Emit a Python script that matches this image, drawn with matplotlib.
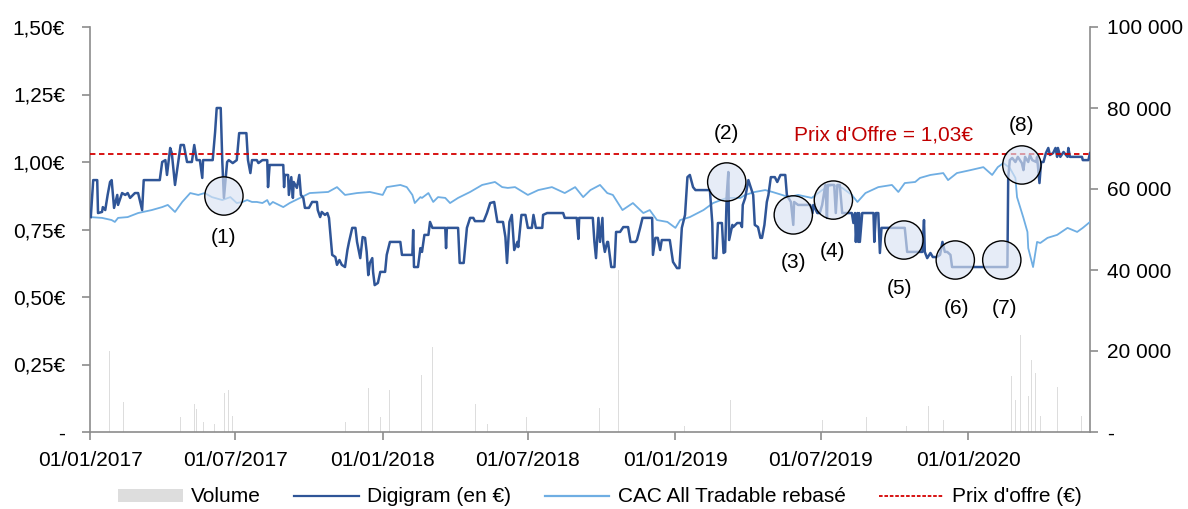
import matplotlib
matplotlib.use("Agg")
import matplotlib.pyplot as plt
import matplotlib.dates as mdates
from matplotlib.patches import Patch
from matplotlib.lines import Line2D
from matplotlib.ticker import FixedLocator
import pandas as pd

plt.rcParams['font.family'] = ['Liberation Sans', 'DejaVu Sans']

START = pd.Timestamp('2017-01-01')
END = pd.Timestamp('2020-06-01')

# Digigram share price (€): days since START, price
digi_days = [1, 4, 9, 10, 15, 16, 19, 22, 25, 27, 30, 34, 35, 40, 44, 47, 50, 56, 60, 65, 67, 87, 90, 94, 96, 100, 102, 106, 110, 113, 117, 121, 127, 130, 133, 137, 140, 141, 153, 156, 158, 163, 165, 167, 171, 173, 178, 183, 186, 195, 197, 200, 202, 208, 210, 215, 221, 222, 224, 241, 242, 243, 247, 248, 251, 253, 254, 258, 261, 263, 266, 268, 273, 277, 283, 284, 287, 289, 293, 296, 298, 302, 306, 308, 311, 314, 318, 321, 323, 327, 331, 333, 337, 340, 343, 345, 347, 349, 352, 353, 355, 359, 362, 368, 370, 374, 387, 389, 402, 403, 404, 409, 412, 414, 417, 422, 424, 427, 443, 444, 445, 459, 461, 466, 470, 474, 478, 480, 491, 495, 499, 504, 508, 515, 518, 520, 523, 526, 529, 533, 534, 538, 543, 546, 551, 553, 556, 564, 565, 570, 590, 592, 607, 609, 610, 627, 629, 631, 634, 636, 639, 640, 642, 645, 646, 650, 654, 656, 661, 665, 671, 674, 680, 682, 686, 689, 701, 702, 705, 708, 711, 713, 723, 727, 732, 735, 738, 742, 745, 748, 752, 755, 773, 776, 777, 781, 783, 788, 790, 792, 794, 796, 797, 801, 802, 807, 811, 813, 814, 817, 821, 823, 827, 829, 833, 836, 838, 841, 844, 846, 849, 854, 857, 861, 867, 869, 871, 874, 877, 878, 883, 898, 901, 902, 907, 910, 913, 917, 919, 920, 928, 930, 932, 935, 938, 945, 950, 952, 954, 955, 957, 958, 959, 960, 963, 977, 978, 980, 983, 985, 987, 1016, 1019, 1031, 1038, 1040, 1041, 1044, 1048, 1051, 1056, 1060, 1063, 1066, 1069, 1073, 1075, 1144, 1145, 1147, 1150, 1154, 1157, 1162, 1164, 1166, 1170, 1172, 1175, 1180, 1181, 1184, 1186, 1189, 1192, 1195, 1197, 1201, 1204, 1206, 1207, 1210, 1214, 1219, 1220, 1222, 1237, 1238, 1245, 1247]
digi_price = [0.796, 0.933, 0.933, 0.811, 0.815, 0.833, 0.822, 0.878, 0.926, 0.933, 0.830, 0.878, 0.841, 0.885, 0.878, 0.885, 0.867, 0.885, 0.885, 0.822, 0.933, 0.933, 1.000, 1.007, 0.952, 1.052, 1.033, 0.915, 1.000, 1.063, 1.063, 1.000, 1.000, 1.063, 1.007, 1.007, 0.941, 1.007, 1.007, 1.111, 1.200, 1.200, 1.000, 0.867, 1.000, 1.007, 0.996, 1.007, 1.107, 1.107, 1.007, 0.959, 1.007, 1.007, 0.996, 1.007, 1.007, 0.907, 0.989, 0.989, 0.907, 0.952, 0.952, 0.878, 0.944, 0.867, 0.926, 0.904, 0.952, 0.878, 0.867, 0.830, 0.830, 0.852, 0.852, 0.822, 0.796, 0.815, 0.804, 0.811, 0.793, 0.656, 0.648, 0.619, 0.637, 0.619, 0.611, 0.674, 0.704, 0.756, 0.756, 0.704, 0.644, 0.722, 0.719, 0.667, 0.581, 0.626, 0.644, 0.593, 0.544, 0.552, 0.593, 0.593, 0.656, 0.704, 0.704, 0.656, 0.656, 0.748, 0.611, 0.611, 0.681, 0.667, 0.730, 0.730, 0.778, 0.756, 0.756, 0.681, 0.756, 0.756, 0.626, 0.626, 0.756, 0.793, 0.793, 0.781, 0.781, 0.811, 0.848, 0.852, 0.778, 0.778, 0.722, 0.626, 0.778, 0.804, 0.674, 0.704, 0.685, 0.804, 0.804, 0.756, 0.756, 0.804, 0.756, 0.756, 0.804, 0.811, 0.811, 0.793, 0.793, 0.715, 0.793, 0.793, 0.704, 0.644, 0.793, 0.704, 0.793, 0.704, 0.667, 0.704, 0.704, 0.611, 0.611, 0.741, 0.741, 0.759, 0.759, 0.704, 0.704, 0.711, 0.756, 0.793, 0.793, 0.656, 0.719, 0.719, 0.674, 0.711, 0.711, 0.630, 0.607, 0.607, 0.756, 0.804, 0.944, 0.952, 0.907, 0.896, 0.896, 0.774, 0.644, 0.644, 0.774, 0.774, 0.663, 0.667, 0.878, 0.963, 0.711, 0.767, 0.759, 0.774, 0.774, 0.759, 0.841, 0.867, 0.933, 0.915, 0.878, 0.767, 0.759, 0.719, 0.719, 0.767, 0.852, 0.878, 0.944, 0.944, 0.926, 0.952, 0.952, 0.878, 0.867, 0.852, 0.767, 0.852, 0.841, 0.841, 0.811, 0.841, 0.811, 0.811, 0.841, 0.915, 0.793, 0.915, 0.915, 0.811, 0.915, 0.915, 0.811, 0.811, 0.811, 0.774, 0.811, 0.704, 0.811, 0.704, 0.811, 0.704, 0.811, 0.811, 0.704, 0.811, 0.811, 0.663, 0.756, 0.756, 0.667, 0.667, 0.667, 0.785, 0.667, 0.644, 0.663, 0.648, 0.648, 0.656, 0.704, 0.667, 0.667, 0.656, 0.611, 0.611, 0.941, 1.007, 1.015, 1.000, 1.019, 0.996, 0.970, 1.019, 1.000, 1.026, 1.007, 1.000, 1.019, 0.922, 1.000, 1.000, 1.033, 1.052, 1.026, 1.033, 1.052, 1.019, 1.052, 1.019, 1.037, 1.019, 1.052, 1.019, 1.019, 1.007, 1.007, 1.033]

# CAC All Tradable rebased on Digigram's starting price
cac_days = [0, 15, 27, 31, 35, 47, 60, 77, 90, 97, 106, 115, 125, 135, 143, 152, 165, 175, 183, 190, 196, 202, 208, 215, 221, 224, 228, 241, 249, 262, 274, 297, 308, 318, 333, 349, 365, 370, 387, 395, 402, 405, 412, 414, 422, 428, 434, 443, 449, 459, 474, 489, 505, 514, 521, 530, 546, 559, 576, 592, 605, 615, 624, 636, 645, 652, 664, 677, 690, 698, 707, 720, 730, 736, 748, 765, 777, 794, 811, 817, 829, 842, 851, 863, 871, 883, 900, 913, 925, 938, 950, 957, 967, 983, 1000, 1008, 1016, 1029, 1035, 1048, 1064, 1070, 1081, 1098, 1114, 1125, 1132, 1139, 1147, 1154, 1156, 1164, 1169, 1170, 1176, 1181, 1185, 1194, 1206, 1219, 1231, 1238, 1247]
cac_value = [0.796, 0.793, 0.785, 0.778, 0.793, 0.796, 0.811, 0.822, 0.833, 0.841, 0.815, 0.852, 0.885, 0.878, 0.885, 0.870, 0.859, 0.870, 0.848, 0.852, 0.859, 0.852, 0.852, 0.848, 0.859, 0.841, 0.852, 0.833, 0.848, 0.867, 0.885, 0.889, 0.907, 0.878, 0.885, 0.889, 0.878, 0.907, 0.915, 0.907, 0.878, 0.848, 0.870, 0.867, 0.885, 0.852, 0.870, 0.867, 0.848, 0.867, 0.889, 0.915, 0.926, 0.907, 0.904, 0.907, 0.878, 0.896, 0.907, 0.885, 0.907, 0.870, 0.896, 0.915, 0.885, 0.878, 0.822, 0.848, 0.811, 0.822, 0.785, 0.778, 0.756, 0.785, 0.796, 0.822, 0.848, 0.867, 0.867, 0.878, 0.889, 0.896, 0.889, 0.878, 0.870, 0.878, 0.867, 0.896, 0.915, 0.904, 0.878, 0.852, 0.885, 0.907, 0.915, 0.889, 0.922, 0.926, 0.941, 0.952, 0.959, 0.933, 0.959, 0.970, 0.981, 0.952, 0.981, 0.996, 0.978, 0.941, 0.870, 0.793, 0.741, 0.681, 0.611, 0.704, 0.700, 0.719, 0.730, 0.756, 0.741, 0.756, 0.778]

# Daily traded volume (shares)
vol_days = [10, 24, 30, 35, 42, 56, 113, 130, 133, 142, 155, 168, 173, 178, 197, 268, 303, 319, 338, 347, 362, 373, 413, 427, 439, 481, 496, 544, 581, 596, 631, 635, 659, 671, 677, 697, 741, 799, 848, 913, 968, 1018, 1046, 1064, 1080, 1149, 1154, 1160, 1170, 1174, 1179, 1185, 1206, 1217, 1222, 1236]
vol_values = [8600, 20000, 22700, 17800, 7400, 5000, 3700, 6800, 5700, 2500, 2000, 9600, 10400, 4000, 1500, 12100, 11100, 2500, 8600, 10800, 3700, 10400, 14000, 21000, 8400, 6800, 2000, 3700, 11600, 10400, 31400, 6000, 40000, 22200, 30100, 3000, 1500, 7900, 14800, 3000, 3700, 1500, 6400, 3000, 6400, 13800, 8000, 24000, 9000, 17800, 14500, 4000, 11100, 5000, 5000, 4000]

OFFER_PRICE = 1.03
OFFER_TEXT = "Prix d'Offre = 1,03€"
OFFER_TEXT_DAY = 989
OFFER_TEXT_PRICE = 1.10

# Highlighted events
event_labels = ['(1)', '(2)', '(3)', '(4)', '(5)', '(6)', '(7)', '(8)']
event_days = [167, 794, 877, 927, 1015, 1079, 1137, 1162]
event_price = [0.874, 0.926, 0.804, 0.859, 0.711, 0.637, 0.637, 0.989]
label_days = [166, 794, 877, 926, 1010, 1081, 1140, 1161]
label_price = [0.719, 1.107, 0.626, 0.667, 0.533, 0.459, 0.459, 1.137]

y_ticks = [0, 0.25, 0.5, 0.75, 1.0, 1.25, 1.5]
y_tick_labels = ['-', '0,25€', '0,50€', '0,75€', '1,00€', '1,25€', '1,50€']
vol_ticks = [0, 20000, 40000, 60000, 80000, 100000]
vol_tick_labels = ['-', '20 000', '40 000', '60 000', '80 000', '100 000']
x_ticks = ['2017-01-01', '2017-07-01', '2018-01-01', '2018-07-01', '2019-01-01', '2019-07-01', '2020-01-01']


def to_dates(days):
    return START + pd.to_timedelta(days, unit='D')


FS = 15
C_DIGI = '#2F5597'
C_CAC = '#6FAEE3'
C_VOL = '#DDDDDD'
C_RED = '#D40000'
C_AX = '#8C8C8C'

fig = plt.figure(figsize=(11.88, 5.09), dpi=100)
ax = fig.add_axes([90 / 1188, 77 / 509, 1000 / 1188, 405 / 509])
ax2 = ax.twinx()

ax2.bar(to_dates(vol_days), vol_values, width=1.0, color=C_VOL, linewidth=0)
ax2.set_ylim(0, 100000)

ax.set_zorder(ax2.get_zorder() + 1)
ax.patch.set_visible(False)

ax.plot(to_dates(cac_days), cac_value, color=C_CAC, lw=1.3, zorder=3)
ax.plot(to_dates(digi_days), digi_price, color=C_DIGI, lw=1.8, zorder=4)
ax.axhline(OFFER_PRICE, color=C_RED, lw=1.3, ls=(0, (3, 2)), zorder=5)

ax.scatter(to_dates(event_days), event_price, s=760, facecolor='#DAE3F3', alpha=0.65,
           edgecolor='none', zorder=6)
ax.scatter(to_dates(event_days), event_price, s=760, facecolor='none',
           edgecolor='black', linewidth=1.0, zorder=7)
for lab, d, p in zip(event_labels, to_dates(label_days), label_price):
    ax.text(d, p, lab, ha='center', va='center', fontsize=FS, color='black', zorder=8)

ax.text(to_dates([OFFER_TEXT_DAY])[0], OFFER_TEXT_PRICE, OFFER_TEXT, color='#C00000',
        ha='center', va='center', fontsize=FS, zorder=8)

ax.set_xlim(START, END)
ax.set_ylim(0, 1.5)
ax.set_yticks(y_ticks)
ax.set_yticklabels(y_tick_labels)
ax2.set_yticks(vol_ticks)
ax2.set_yticklabels(vol_tick_labels)
ax.xaxis.set_major_locator(FixedLocator(mdates.date2num(pd.to_datetime(x_ticks))))
ax.xaxis.set_major_formatter(mdates.DateFormatter('%d/%m/%Y'))

for a in (ax, ax2):
    a.spines['top'].set_visible(False)
    for s in ('left', 'right', 'bottom'):
        a.spines[s].set_color(C_AX)
        a.spines[s].set_linewidth(1.2)
    a.tick_params(axis='both', colors=C_AX, labelcolor='black', labelsize=FS,
                  length=6, width=1.2, direction='out')
ax.spines['right'].set_visible(False)
ax2.spines['left'].set_visible(False)
ax2.spines['bottom'].set_visible(False)
ax.tick_params(axis='x', pad=8)
ax.tick_params(axis='y', pad=12)
ax2.tick_params(axis='y', pad=6)

handles = [
    Patch(facecolor=C_VOL, edgecolor='none'),
    Line2D([], [], color=C_DIGI, lw=1.6),
    Line2D([], [], color=C_CAC, lw=1.6),
    Line2D([], [], color=C_RED, lw=1.3, ls=(0, (2, 1))),
]
labels = ['Volume', 'Digigram (en €)', 'CAC All Tradable rebasé', "Prix d'offre (€)"]
fig.legend(handles, labels, loc='center', bbox_to_anchor=(0.505, 12 / 509), ncol=4,
           frameon=False, fontsize=FS, handlelength=3.1, handleheight=0.6,
           columnspacing=1.6, handletextpad=0.4)

fig.savefig('out.png', dpi=100)
